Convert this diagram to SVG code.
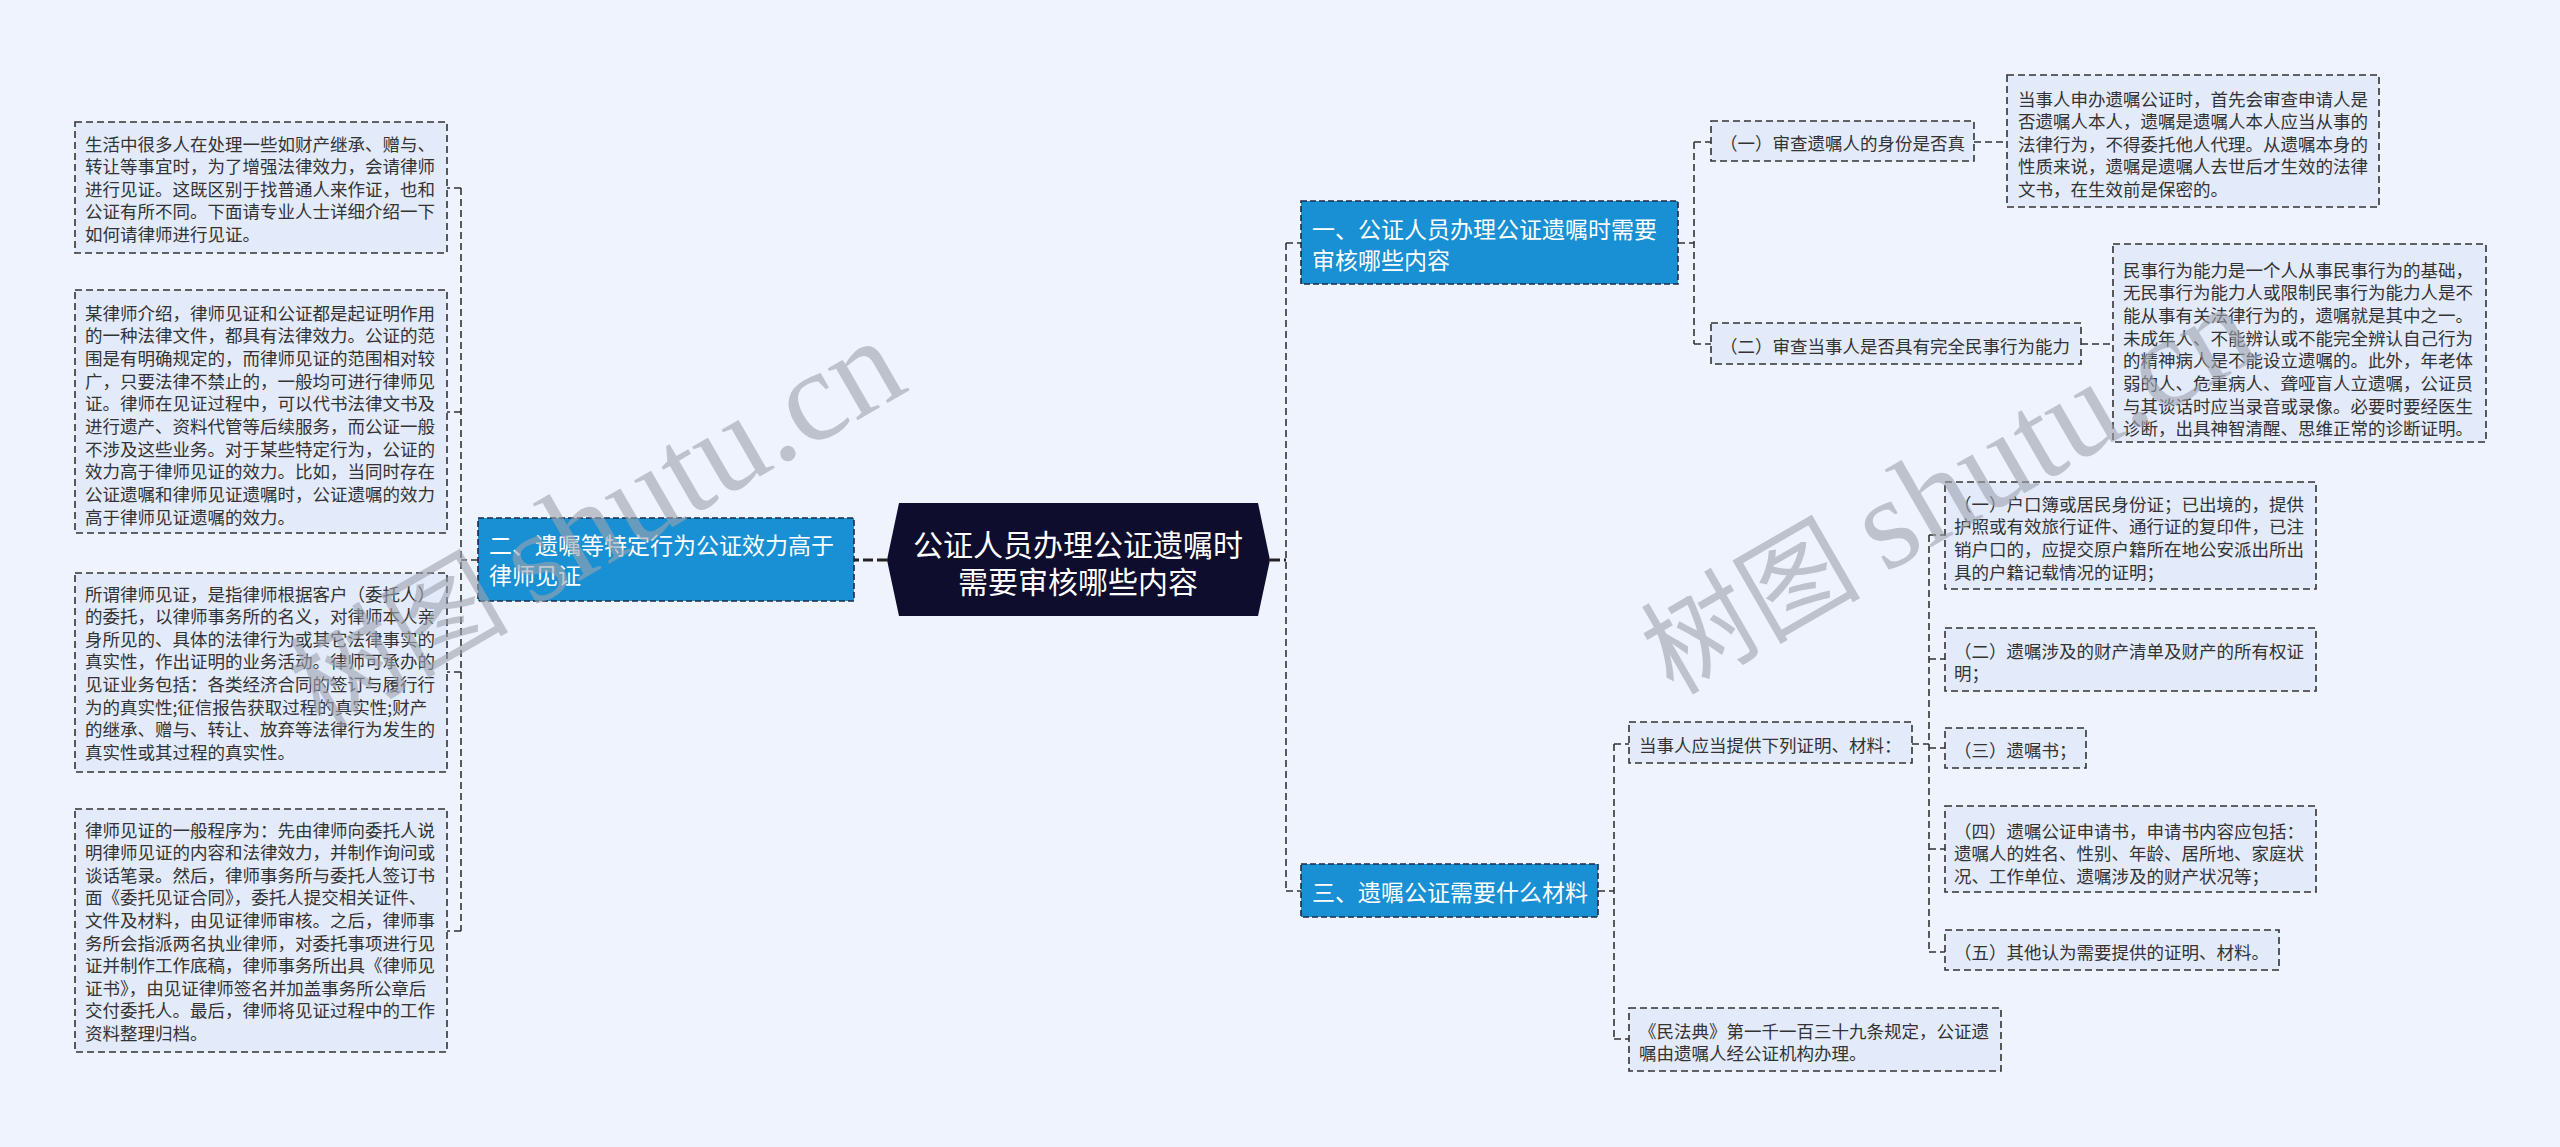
<svg xmlns="http://www.w3.org/2000/svg" width="2560" height="1147" viewBox="0 0 2560 1147">
<style>
.bg{fill:#eef3fd}
.leaf{fill:#e3eafa;stroke:#333;stroke-width:1.6;stroke-dasharray:7 4}
.lt{font-family:"Noto Sans CJK SC","Noto Sans",sans-serif;font-size:17.5px;fill:#333;dominant-baseline:central}
.br{fill:#1890d3;stroke:#1c2b45;stroke-width:1.6;stroke-dasharray:6 3}
.bt{font-family:"Noto Sans CJK SC","Noto Sans",sans-serif;font-size:23px;fill:#fff;dominant-baseline:central}
.ct{font-family:"Noto Sans CJK SC","Noto Sans",sans-serif;font-size:30px;fill:#fff;dominant-baseline:central;text-anchor:middle}
.conn{fill:none;stroke:#333;stroke-width:1.6;stroke-dasharray:7 4}
.main{fill:none;stroke:#222;stroke-width:3;stroke-dasharray:10 4}
.wm{font-family:"Noto Sans CJK SC","Liberation Serif",serif;font-size:110px;fill:#9ea3ae;opacity:0.6}
.wml{font-family:"Liberation Serif",serif;font-size:130px}
</style>
<rect class="bg" x="0" y="0" width="2560" height="1147"/>

<g id="connectors">
<path class="main" d="M887,560 H854"/>
<path class="main" d="M1270,560 H1286"/>
<path class="conn" d="M478,560 H461 M461,188 V931 M461,188 H447 M461,412 H447 M461,672 H447 M461,931 H447"/>
<path class="conn" d="M1286,243 V891 M1286,243 H1301 M1286,891 H1301"/>
<path class="conn" d="M1678,243 H1694 M1694,142 V344 M1694,142 H1711 M1694,344 H1711"/>
<path class="conn" d="M1974,142 H2007 M2081,344 H2113"/>
<path class="conn" d="M1598,891 H1614 M1614,744 V1039 M1614,744 H1629 M1614,1039 H1629"/>
<path class="conn" d="M1912,744 H1929 M1929,535 V952 M1929,535 H1945 M1929,659 H1945 M1929,748 H1945 M1929,849 H1945 M1929,952 H1945"/>
</g>

<g id="center">
<polygon points="899,503 1258,503 1270,560 1258,616 899,616 887,560" fill="#0f0d2e"/>
<text class="ct" x="1078" y="543">公证人员办理公证遗嘱时</text>
<text class="ct" x="1078" y="580">需要审核哪些内容</text>
</g>

<g id="branch2">
<rect class="br" x="478" y="518" width="376" height="83"/>
<text class="bt" x="489" y="544">二、遗嘱等特定行为公证效力高于</text>
<text class="bt" x="489" y="574">律师见证</text>
</g>

<g id="leaf2-1">
<rect class="leaf" x="75" y="122" width="372" height="131"/>
<text class="lt" x="85" y="143">生活中很多人在处理一些如财产继承、赠与、</text>
<text class="lt" x="85" y="165.5">转让等事宜时，为了增强法律效力，会请律师</text>
<text class="lt" x="85" y="188">进行见证。这既区别于找普通人来作证，也和</text>
<text class="lt" x="85" y="210.5">公证有所不同。下面请专业人士详细介绍一下</text>
<text class="lt" x="85" y="233">如何请律师进行见证。</text>
</g>

<g id="leaf2-2">
<rect class="leaf" x="75" y="290" width="372" height="243"/>
<text class="lt" x="85" y="312">某律师介绍，律师见证和公证都是起证明作用</text>
<text class="lt" x="85" y="334.7">的一种法律文件，都具有法律效力。公证的范</text>
<text class="lt" x="85" y="357.4">围是有明确规定的，而律师见证的范围相对较</text>
<text class="lt" x="85" y="380.1">广，只要法律不禁止的，一般均可进行律师见</text>
<text class="lt" x="85" y="402.8">证。律师在见证过程中，可以代书法律文书及</text>
<text class="lt" x="85" y="425.5">进行遗产、资料代管等后续服务，而公证一般</text>
<text class="lt" x="85" y="448.2">不涉及这些业务。对于某些特定行为，公证的</text>
<text class="lt" x="85" y="470.9">效力高于律师见证的效力。比如，当同时存在</text>
<text class="lt" x="85" y="493.6">公证遗嘱和律师见证遗嘱时，公证遗嘱的效力</text>
<text class="lt" x="85" y="516.3">高于律师见证遗嘱的效力。</text>
</g>

<g id="leaf2-3">
<rect class="leaf" x="75" y="573" width="372" height="199"/>
<text class="lt" x="85" y="593">所谓律师见证，是指律师根据客户（委托人）</text>
<text class="lt" x="85" y="615.6">的委托，以律师事务所的名义，对律师本人亲</text>
<text class="lt" x="85" y="638.2">身所见的、具体的法律行为或其它法律事实的</text>
<text class="lt" x="85" y="660.8">真实性，作出证明的业务活动。律师可承办的</text>
<text class="lt" x="85" y="683.4">见证业务包括：各类经济合同的签订与履行行</text>
<text class="lt" x="85" y="706">为的真实性;征信报告获取过程的真实性;财产</text>
<text class="lt" x="85" y="728.6">的继承、赠与、转让、放弃等法律行为发生的</text>
<text class="lt" x="85" y="751.2">真实性或其过程的真实性。</text>
</g>

<g id="leaf2-4">
<rect class="leaf" x="75" y="809" width="372" height="243"/>
<text class="lt" x="85" y="829">律师见证的一般程序为：先由律师向委托人说</text>
<text class="lt" x="85" y="851.6">明律师见证的内容和法律效力，并制作询问或</text>
<text class="lt" x="85" y="874.2">谈话笔录。然后，律师事务所与委托人签订书</text>
<text class="lt" x="85" y="896.8">面《委托见证合同》，委托人提交相关证件、</text>
<text class="lt" x="85" y="919.4">文件及材料，由见证律师审核。之后，律师事</text>
<text class="lt" x="85" y="942">务所会指派两名执业律师，对委托事项进行见</text>
<text class="lt" x="85" y="964.6">证并制作工作底稿，律师事务所出具《律师见</text>
<text class="lt" x="85" y="987.2">证书》，由见证律师签名并加盖事务所公章后</text>
<text class="lt" x="85" y="1009.8">交付委托人。最后，律师将见证过程中的工作</text>
<text class="lt" x="85" y="1032.4">资料整理归档。</text>
</g>

<g id="branch1">
<rect class="br" x="1301" y="201" width="377" height="83"/>
<text class="bt" x="1312" y="228">一、公证人员办理公证遗嘱时需要</text>
<text class="bt" x="1312" y="259">审核哪些内容</text>
</g>

<g id="leaf1-1">
<rect class="leaf" x="1711" y="121" width="263" height="40"/>
<text class="lt" x="1720" y="142">（一）审查遗嘱人的身份是否真</text>
</g>

<g id="leaf1-1-1">
<rect class="leaf" x="2007" y="75" width="372" height="132"/>
<text class="lt" x="2018" y="98">当事人申办遗嘱公证时，首先会审查申请人是</text>
<text class="lt" x="2018" y="120.5">否遗嘱人本人，遗嘱是遗嘱人本人应当从事的</text>
<text class="lt" x="2018" y="143">法律行为，不得委托他人代理。从遗嘱本身的</text>
<text class="lt" x="2018" y="165.5">性质来说，遗嘱是遗嘱人去世后才生效的法律</text>
<text class="lt" x="2018" y="188">文书，在生效前是保密的。</text>
</g>

<g id="leaf1-2">
<rect class="leaf" x="1711" y="323" width="370" height="41"/>
<text class="lt" x="1720" y="345">（二）审查当事人是否具有完全民事行为能力</text>
</g>

<g id="leaf1-2-1">
<rect class="leaf" x="2113" y="244" width="373" height="198"/>
<text class="lt" x="2123" y="269">民事行为能力是一个人从事民事行为的基础，</text>
<text class="lt" x="2123" y="291.7">无民事行为能力人或限制民事行为能力人是不</text>
<text class="lt" x="2123" y="314.4">能从事有关法律行为的，遗嘱就是其中之一。</text>
<text class="lt" x="2123" y="337.1">未成年人、不能辨认或不能完全辨认自己行为</text>
<text class="lt" x="2123" y="359.8">的精神病人是不能设立遗嘱的。此外，年老体</text>
<text class="lt" x="2123" y="382.5">弱的人、危重病人、聋哑盲人立遗嘱，公证员</text>
<text class="lt" x="2123" y="405.2">与其谈话时应当录音或录像。必要时要经医生</text>
<text class="lt" x="2123" y="427.9">诊断，出具神智清醒、思维正常的诊断证明。</text>
</g>

<g id="branch3">
<rect class="br" x="1301" y="864" width="297" height="53"/>
<text class="bt" x="1312" y="891">三、遗嘱公证需要什么材料</text>
</g>

<g id="leaf3-1">
<rect class="leaf" x="1629" y="722" width="283" height="41"/>
<text class="lt" x="1639" y="744">当事人应当提供下列证明、材料：</text>
</g>

<g id="leaf3-1-1">
<rect class="leaf" x="1945" y="482" width="371" height="107"/>
<text class="lt" x="1954" y="503">（一）户口簿或居民身份证；已出境的，提供</text>
<text class="lt" x="1954" y="525.7">护照或有效旅行证件、通行证的复印件，已注</text>
<text class="lt" x="1954" y="548.4">销户口的，应提交原户籍所在地公安派出所出</text>
<text class="lt" x="1954" y="571.1">具的户籍记载情况的证明；</text>
</g>

<g id="leaf3-1-2">
<rect class="leaf" x="1945" y="628" width="371" height="63"/>
<text class="lt" x="1954" y="650">（二）遗嘱涉及的财产清单及财产的所有权证</text>
<text class="lt" x="1954" y="672.5">明；</text>
</g>

<g id="leaf3-1-3">
<rect class="leaf" x="1945" y="728" width="141" height="40"/>
<text class="lt" x="1954" y="749">（三）遗嘱书；</text>
</g>

<g id="leaf3-1-4">
<rect class="leaf" x="1945" y="806" width="371" height="86"/>
<text class="lt" x="1954" y="830">（四）遗嘱公证申请书，申请书内容应包括：</text>
<text class="lt" x="1954" y="852.5">遗嘱人的姓名、性别、年龄、居所地、家庭状</text>
<text class="lt" x="1954" y="875">况、工作单位、遗嘱涉及的财产状况等；</text>
</g>

<g id="leaf3-1-5">
<rect class="leaf" x="1945" y="930" width="334" height="40"/>
<text class="lt" x="1954" y="951">（五）其他认为需要提供的证明、材料。</text>
</g>

<g id="leaf3-2">
<rect class="leaf" x="1629" y="1008" width="372" height="63"/>
<text class="lt" x="1639" y="1030">《民法典》第一千一百三十九条规定，公证遗</text>
<text class="lt" x="1639" y="1052.5">嘱由遗嘱人经公证机构办理。</text>
</g>

<g id="watermarks">
<text class="wm" transform="translate(321,730) rotate(-30)">树图 <tspan class="wml">shutu.cn</tspan></text>
<text class="wm" transform="translate(1673,696) rotate(-30)">树图 <tspan class="wml">shutu.cn</tspan></text>
</g>
</svg>
